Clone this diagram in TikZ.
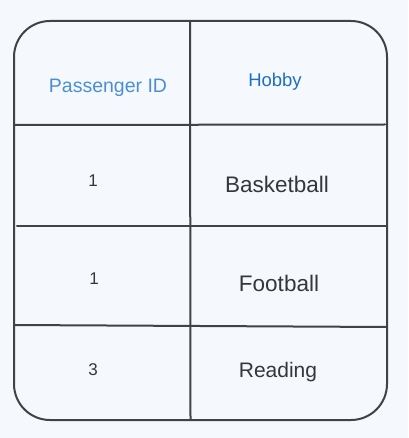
\documentclass[tikz,border=0pt]{standalone}
\usepackage{fontspec}
\setmainfont{Liberation Sans}
\definecolor{bg}{HTML}{F5F9FD}
\definecolor{ink}{HTML}{3F4246}
\definecolor{hdrA}{HTML}{4A8FD6}
\definecolor{hdrB}{HTML}{1C6FC4}
\definecolor{txt}{HTML}{34373B}
\begin{document}
\begin{tikzpicture}[x=1pt,y=-1pt,
  rule/.style={draw=ink,line width=2pt,line cap=round},
  hdr/.style={font=\fontsize{19.5}{21}\selectfont,inner sep=0pt,anchor=center},
  cell/.style={font=\fontsize{22.5}{24}\selectfont,text=txt,inner sep=0pt,anchor=center},
  num/.style={font=\fontsize{17}{19}\selectfont,text=txt,inner sep=0pt,anchor=center}]
\fill[bg] (0,0) rectangle (408,438);
\useasboundingbox (0,0) rectangle (408,438);
% outer frame
\draw[rule,rounded corners=36pt] (14,21) rectangle (387,420);
% column divider
\draw[rule] (190,21) -- (190.5,419);
% row rules
\draw[rule] (14,125) -- (385,124.5);
\draw[rule] (17,226) -- (387,226);
\draw[rule] (14,325) -- (387,327);
% header
\node[hdr,text=hdrA] (h1) at (108,88) {Passenger ID};
\node[hdr,text=hdrB,font=\fontsize{18.5}{20}\selectfont] (h2) at (275,82) {Hobby};
% rows
\node[num] (a1) at (93,181) {1};
\node[cell] (b1) at (277,184) {Basketball};
\node[num] (a2) at (94,279) {1};
\node[cell] (b2) at (279,283) {Football};
\node[num] (a3) at (93,370) {3};
\node[cell,font=\fontsize{21}{23}\selectfont] (b3) at (278,372) {Reading};
\end{tikzpicture}
\end{document}
